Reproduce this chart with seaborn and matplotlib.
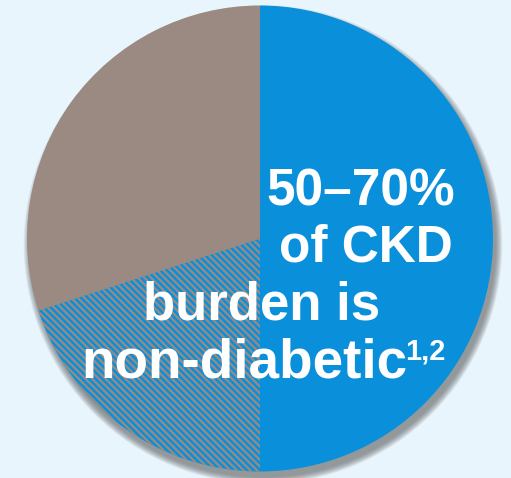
import numpy as np
import matplotlib
matplotlib.use("Agg")
import matplotlib.pyplot as plt
import seaborn as sns
from matplotlib.patches import Circle

# ---- data ----
segments = ["diabetic", "non-diabetic (overlap)", "other"]
shares = [50, 20, 30]
seg_colors = ["#0A8FDB", "#0A8FDB", "#9A8A82"]
hatch_color = "#9A8A82"
bg_color = "#E8F5FD"

headline = ["50–70%", "of CKD", "burden is", "non-diabetic"]
footnote = "1,2"

# ---- style ----
sns.set_theme(style="white")
plt.rcParams["font.family"] = ["Liberation Sans", "DejaVu Sans"]
plt.rcParams["hatch.linewidth"] = 1.6

W, H = 511, 478
fig = plt.figure(figsize=(W / 100, H / 100), dpi=100, facecolor=bg_color)
ax = fig.add_axes([0, 0, 1, 1])
ax.set_facecolor(bg_color)

# pixel -> data helper (pie centre at 260, 238.5 px, radius 233 px)
CX, CY, R = 260, 238.5, 233
def px(x, y):
    return (x - CX) / R, (CY - y) / R

# soft drop shadow (lower right)
sx, sy = 3 / R, -6 / R
for k in range(10):
    ax.add_patch(Circle((sx, sy), 1.0 + k * 0.003, color="#555555",
                        alpha=0.08, lw=0, zorder=0, clip_on=False))

wedges, _ = ax.pie(shares, colors=seg_colors, startangle=90, counterclock=False,
                   radius=1, wedgeprops=dict(linewidth=0))
for w in wedges:
    w.set_zorder(2)
wedges[1].set_hatch("\\" * 5)
wedges[1].set_edgecolor(hatch_color)
wedges[1].set_linewidth(0)

ax.set_xlim(px(0, 0)[0], px(W, 0)[0])
ax.set_ylim(px(0, H)[1], px(0, 0)[1])
ax.set_aspect("auto")
ax.axis("off")

txt = dict(color="white", fontweight="bold", zorder=5)
ax.text(*px(455, 205), headline[0], ha="right", va="baseline", fontsize=37, **txt)
ax.text(*px(453, 262), headline[1], ha="right", va="baseline", fontsize=37, **txt)
ax.text(*px(262, 320), headline[2], ha="center", va="baseline", fontsize=38, **txt)
ax.text(*px(81, 378), headline[3], ha="left", va="baseline", fontsize=39.5, **txt)
ax.text(*px(405, 360), footnote, ha="left", va="baseline", fontsize=21, **txt)

fig.savefig("out.png", dpi=100, facecolor=bg_color)
